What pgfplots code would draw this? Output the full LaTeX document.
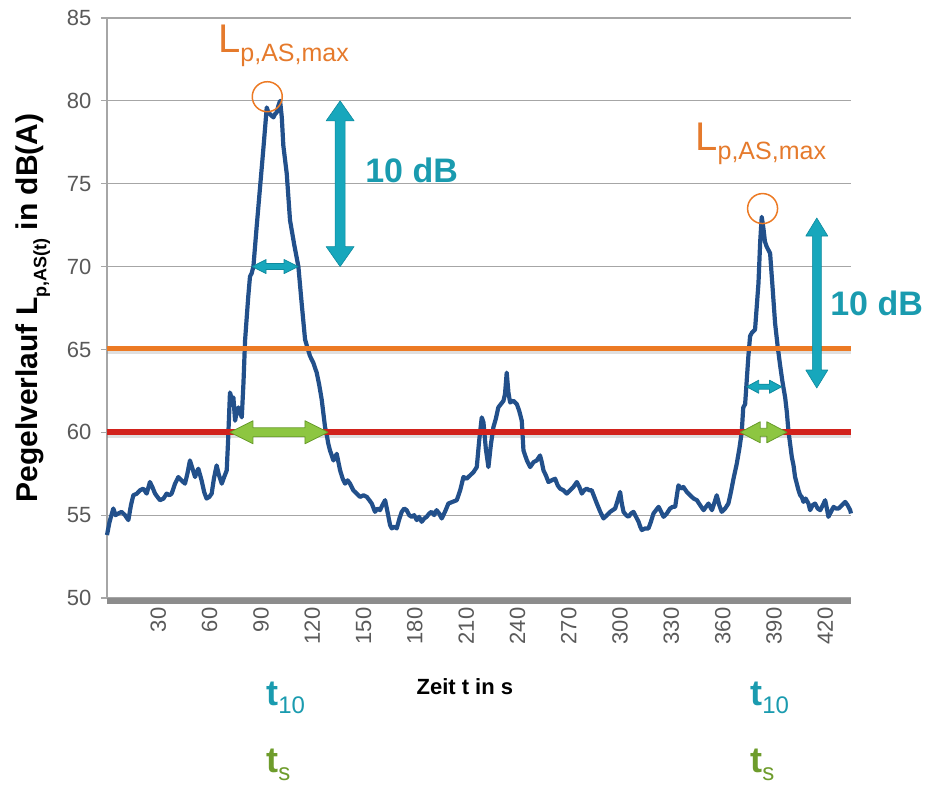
\documentclass[border=0pt]{standalone}
\usepackage{fontspec}
\setmainfont{Liberation Sans}
\usepackage{pgfplots}
\pgfplotsset{compat=1.18}
\usetikzlibrary{calc}

\definecolor{curve}{HTML}{22508B}
\definecolor{lorange}{HTML}{EC7A24}
\definecolor{lred}{HTML}{D2221C}
\definecolor{teal1}{HTML}{17A7BC}
\definecolor{teal2}{HTML}{0E8A9E}
\definecolor{green1}{HTML}{8DC641}
\definecolor{green2}{HTML}{679B2A}
\definecolor{txtorange}{HTML}{E57A2C}
\definecolor{txtteal}{HTML}{1A9BAF}
\definecolor{txtgreen}{HTML}{6E9C2C}
\definecolor{gridgray}{HTML}{A6A6A6}
\definecolor{ticklab}{HTML}{595959}
\definecolor{barcol}{HTML}{8C8C8C}

% vertical double arrow: x, ybottom, ytop, headlen, headhalf, bodyhalf, fill, draw
\newcommand{\varrow}[8]{%
  \draw[fill=#7, draw=#8, line width=0.6pt, line join=round]
    (axis cs:#1,#3)
    -- ($(axis cs:#1,#3)+(#5,-#4)$)
    -- ($(axis cs:#1,#3)+(#6,-#4)$)
    -- ($(axis cs:#1,#2)+(#6,#4)$)
    -- ($(axis cs:#1,#2)+(#5,#4)$)
    -- (axis cs:#1,#2)
    -- ($(axis cs:#1,#2)+(-#5,#4)$)
    -- ($(axis cs:#1,#2)+(-#6,#4)$)
    -- ($(axis cs:#1,#3)+(-#6,-#4)$)
    -- ($(axis cs:#1,#3)+(-#5,-#4)$)
    -- cycle;}
% horizontal double arrow: xleft, xright, y, headlen, headhalf, bodyhalf, fill, draw
\newcommand{\harrow}[8]{%
  \draw[fill=#7, draw=#8, line width=0.8pt, line join=round]
    (axis cs:#1,#3)
    -- ($(axis cs:#1,#3)+(#4,#5)$)
    -- ($(axis cs:#1,#3)+(#4,#6)$)
    -- ($(axis cs:#2,#3)+(-#4,#6)$)
    -- ($(axis cs:#2,#3)+(-#4,#5)$)
    -- (axis cs:#2,#3)
    -- ($(axis cs:#2,#3)+(-#4,-#5)$)
    -- ($(axis cs:#2,#3)+(-#4,-#6)$)
    -- ($(axis cs:#1,#3)+(#4,-#6)$)
    -- ($(axis cs:#1,#3)+(#4,-#5)$)
    -- cycle;}

\begin{document}
\begin{tikzpicture}
\begin{axis}[
  scale only axis, width=744pt, height=580pt,
  xmin=0, xmax=435, ymin=50, ymax=85,
  axis x line*=bottom, axis y line*=left,
  clip=false,
  ytick={50,55,...,85},
  xtick={30,60,...,420},
  minor xtick={14.8,33.45,...,430},
  tick align=outside,
  major tick length=6pt, minor tick length=6pt,
  ymajorgrids,
  major grid style={gridgray, line width=1.2pt},
  x axis line style={draw=barcol, line width=6pt, yshift=-3pt, -},
  y axis line style={draw=gridgray, line width=1.2pt, -},
  ytick style={draw=gridgray, line width=1.2pt},
  xtick style={draw=white!80!gray, line width=1pt},
  every major x tick/.append style={draw=none},
  /pgf/number format/assume math mode=true,
  yticklabel style={font=\fontsize{22}{22}\selectfont, text=ticklab, xshift=-6pt},
  xticklabel style={font=\fontsize{22}{22}\selectfont, text=ticklab, rotate=90, anchor=east},
  xlabel={Zeit t in s},
  xlabel style={font=\bfseries\fontsize{22}{22}\selectfont, at={(axis description cs:0.481,-0.1534)}, anchor=center},
  ylabel={Pegelverlauf L\raisebox{-0.3em}{\fontsize{18}{18}\selectfont p,AS(t)} in dB(A)},
  ylabel style={font=\bfseries\fontsize{30}{30}\selectfont, at={(axis description cs:-0.0995,0.5)}, anchor=center},
]
% threshold lines: soft shadow
\addplot[gray, opacity=0.25, line width=5pt, yshift=-3pt, forget plot] coordinates {(0,65.05) (435,65.05)};
\addplot[gray, opacity=0.25, line width=6pt, yshift=-3pt, forget plot] coordinates {(0,60) (435,60)};

% level curve
\addplot[curve, line width=4.2pt, line join=round] coordinates {
(0,53.8) (1.5,54.6) (3.7,55.4) (5,55.0) (6.6,55.1) (8.5,55.2) (10.5,55.0) (12.5,54.7)
(14,55.6) (15.4,56.2) (17.5,56.3) (19.3,56.5) (21.2,56.6) (23.2,56.3) (25.1,57.0) (26.5,56.7)
(28.1,56.3) (29.5,56.1) (31,55.9) (33,56.0) (34.9,56.3) (36.5,56.2) (37.8,56.3) (39.8,56.9)
(41.7,57.3) (43.5,57.1) (45.6,56.9) (47,57.5) (48.5,58.3) (50,57.8) (51.5,57.3) (52.5,57.6)
(53.4,57.8) (55.3,57.1) (56.8,56.4) (58.2,56.0) (59.8,56.1) (61.2,56.3) (62.5,57.2) (64.1,58.0)
(65.5,57.4) (67.1,56.9) (68.5,57.3) (70.0,57.7) (70.8,59.5) (71.9,62.4) (73.0,62.0) (73.9,62.1)
(74.9,60.7) (75.8,61.2) (76.8,61.5) (77.8,61.2) (78.8,60.9) (79.8,63.0) (80.7,65.5) (81.6,66.8)
(82.6,68.2) (83.6,69.4) (84.6,69.6) (85.6,70.0) (87.5,72.4) (89.5,74.8) (91.5,77.2) (93.4,79.6)
(94.4,79.3) (95.3,79.2) (96.3,79.1) (97.3,79.0) (98.2,79.2) (99.2,79.3) (100.2,79.7) (101.2,80.0)
(102.2,79.0) (103.1,77.3) (105.1,75.6) (107.0,72.8) (109.5,71.3) (111.9,70.0) (113.8,67.8) (115.8,65.6)
(117.2,65.1) (118.7,64.6) (120.6,64.2) (122.6,63.6) (124,62.9) (125.5,62.0) (127.5,60.3) (128.4,59.9)
(129.4,59.3) (130.4,58.9) (132.4,58.3) (134.3,58.7) (136.3,57.7) (137.8,57.2) (139.2,56.9) (140.7,57.1)
(142.1,56.9) (144.0,56.5) (146,56.3) (148.0,56.1) (150,56.2) (151.9,56.1) (153.4,55.9) (154.8,55.7)
(156.7,55.2) (158.2,55.4) (159.6,55.3) (161,55.6) (162.6,55.9) (164,55.2) (165.5,54.4) (166.5,54.2)
(168,54.3) (169.4,54.2) (171,54.8) (172.3,55.2) (173.8,55.4) (175.2,55.3) (176.7,55.0) (178.1,54.9)
(179.6,55.0) (181.1,54.7) (182.5,54.9) (184.0,54.6) (185.5,54.8) (186.9,54.9) (188.4,55.1) (189.8,55.2)
(191.3,55.0) (192.7,55.3) (194.2,55.1) (195.7,54.8) (197.6,55.2) (199.6,55.7) (202,55.8) (204.5,55.9)
(206.5,56.5) (208.4,57.3) (210.3,57.2) (212.3,57.4) (214.3,57.6) (216.2,57.9) (217.6,59.5) (219.1,60.9)
(220.1,60.6) (221.5,59.0) (223.0,57.9) (224.5,59.3) (225.9,60.3) (227.3,60.8) (228.8,61.5) (230.3,61.7)
(231.8,61.9) (232.7,62.3) (233.7,63.6) (234.7,62.4) (235.7,61.8) (237.6,61.9) (239.6,61.7) (241,61.3)
(242.5,60.7) (243.5,58.9) (245.5,58.3) (247.4,57.9) (249.4,58.2) (251.3,58.3) (253.2,58.6) (254.2,58.2)
(255.2,57.7) (256.6,57.4) (258.1,57.0) (260,57.1) (262.0,57.2) (263.5,56.8) (264.9,56.6) (266.9,56.5)
(268.8,56.3) (270.8,56.5) (272.7,56.7) (274.7,57.0) (276.2,56.7) (277.6,56.3) (279,56.5) (280.5,56.6)
(282,56.5) (283.4,56.5) (284.9,56.1) (286.4,55.7) (288.4,55.2) (290.3,54.8) (292.3,55.0) (294.2,55.2)
(295.6,55.3) (297.1,55.4) (298.6,55.9) (300.0,56.4) (301,55.7) (302.0,55.2) (303.5,55.0) (304.9,54.9)
(306.4,55.1) (307.8,55.2) (309.3,54.9) (310.8,54.6) (311.8,54.3) (312.7,54.1) (314.7,54.2) (316.6,54.2)
(318,54.6) (319.5,55.1) (321,55.3) (322.5,55.5) (324,55.2) (325.4,54.9) (327.3,55.1) (329.2,55.4)
(330.7,55.5) (332.2,55.5) (333.2,56.2) (334.1,56.8) (335.6,56.6) (337.0,56.7) (339,56.4) (340.9,56.2)
(343,56.0) (344.9,55.9) (346.8,55.6) (348.8,55.3) (350.2,55.5) (351.7,55.7) (352.7,55.5) (353.7,55.3)
(355,55.7) (356.5,56.2) (358,55.6) (359.4,55.2) (361.4,55.4) (363.3,55.7) (364.8,56.4) (366.3,57.2)
(368.2,58.1) (369.7,59.0) (371.1,60.0) (372,61.5) (373.1,61.7) (375.0,64.6) (376,65.8) (377.0,66.0)
(378.9,66.2) (380.9,69.0) (381.9,71.5) (382.8,73.0) (383.8,72.3) (384.7,71.5) (385.7,71.2) (387.7,70.8)
(389.1,68.8) (390.6,66.6) (392.1,65.2) (393.6,64.0) (395,63.0) (396.5,62.1) (397.5,61.2) (398.4,60.1)
(399.4,59.3) (400.4,58.5) (401.4,58.0) (402.3,57.3) (403.3,56.9) (404.3,56.5) (405.3,56.2) (406.2,56.1)
(407.2,55.8) (408.5,56.0) (410.1,55.7) (411.1,55.3) (412.5,55.6) (414.0,55.7) (415.5,55.4) (417.0,55.3)
(418.5,55.6) (419.9,55.9) (420.9,55.4) (421.8,54.9) (423.3,55.2) (424.8,55.5) (426.2,55.4) (427.7,55.4)
(429.7,55.6) (431.6,55.8) (433,55.6) (434.5,55.3) (435,55.1)
};

% threshold lines
\addplot[lorange, line width=5pt] coordinates {(0,65.05) (435,65.05)};
\addplot[lred, line width=6pt] coordinates {(0,60) (435,60)};

% maxima circles
\draw[lorange, line width=1.5pt] (axis cs:93.7,80.25) circle[radius=15pt];
\draw[lorange, line width=1.5pt] (axis cs:383.3,73.5) circle[radius=15pt];

% arrows
\varrow{136.3}{70}{80}{20pt}{14pt}{5pt}{teal1}{teal2}
\varrow{415}{62.67}{72.93}{18pt}{11pt}{4.5pt}{teal1}{teal2}
\harrow{84.8}{111.7}{70}{14pt}{7pt}{3pt}{teal1}{teal2}
\harrow{374.0}{394.4}{62.75}{12pt}{6.5pt}{2.5pt}{teal1}{teal2}
\harrow{71.9}{129.2}{60}{23pt}{11.5pt}{4.5pt}{green1}{green2}
\harrow{370.2}{397.5}{60}{20pt}{10.5pt}{4pt}{green1}{green2}

% texts
\node[anchor=base west, inner sep=0pt, text=txtorange] at (axis cs:64.9,82.89)
  {\fontsize{40}{40}\selectfont L\raisebox{-9pt}{\fontsize{25}{25}\selectfont p,AS,max}};
\node[anchor=base west, inner sep=0pt, text=txtorange] at (axis cs:343.9,77.03)
  {\fontsize{40}{40}\selectfont L\raisebox{-9pt}{\fontsize{25}{25}\selectfont p,AS,max}};
\node[anchor=base west, inner sep=0pt, text=txtteal, font=\bfseries\fontsize{34}{34}\selectfont] at (axis cs:150.9,75.10) {10 dB};
\node[anchor=base west, inner sep=0pt, text=txtteal, font=\bfseries\fontsize{34}{34}\selectfont] at (axis cs:422.8,67.02) {10 dB};

\node[anchor=base west, inner sep=0pt, text=txtteal, font=\bfseries] at (axis cs:93.0,43.54)
  {\fontsize{36}{36}\selectfont t\raisebox{-8pt}{\fontsize{24}{24}\selectfont\mdseries 10}};
\node[anchor=base west, inner sep=0pt, text=txtgreen, font=\bfseries] at (axis cs:93.0,39.44)
  {\fontsize{36}{36}\selectfont t\raisebox{-8pt}{\fontsize{24}{24}\selectfont\mdseries s}};
\node[anchor=base west, inner sep=0pt, text=txtteal, font=\bfseries] at (axis cs:376.0,43.54)
  {\fontsize{36}{36}\selectfont t\raisebox{-8pt}{\fontsize{24}{24}\selectfont\mdseries 10}};
\node[anchor=base west, inner sep=0pt, text=txtgreen, font=\bfseries] at (axis cs:376.0,39.44)
  {\fontsize{36}{36}\selectfont t\raisebox{-8pt}{\fontsize{24}{24}\selectfont\mdseries s}};
\end{axis}
\pgfresetboundingbox
\path[use as bounding box] (-107pt,-188pt) rectangle (818pt,598pt);
\end{tikzpicture}
\end{document}
